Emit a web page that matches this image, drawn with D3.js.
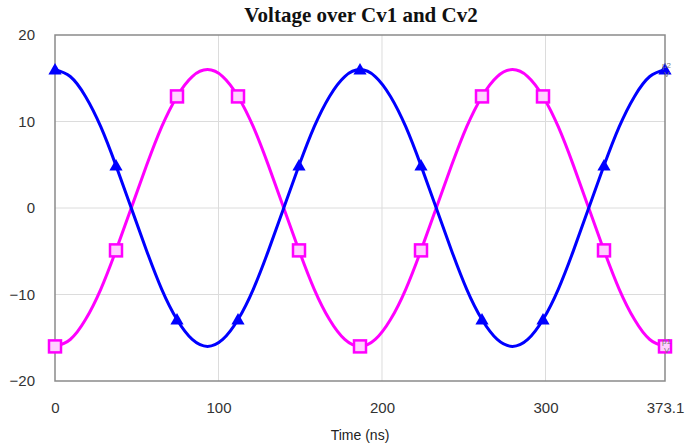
<!DOCTYPE html>
<html>
<head>
<meta charset="utf-8">
<script src="https://cdn.jsdelivr.net/npm/d3@7"></script>
<style>
body { margin: 0; background: #fff; }
</style>
</head>
<body>
<div id="viz"></div>
<script>
const W = 688, H = 446;
const m = {l: 55, r: 23, t: 35, b: 65}; // plot box
const sans = '"Liberation Sans", Arial, sans-serif';

// samples every ~9.33 ns
const time = [0, 9.33, 18.66, 27.98, 37.31, 46.64, 55.97, 65.29, 74.62, 83.95,
              93.28, 102.60, 111.93, 121.26, 130.59, 139.91, 149.24, 158.57, 167.90, 177.22,
              186.55, 195.88, 205.21, 214.53, 223.86, 233.19, 242.52, 251.84, 261.17, 270.50,
              279.83, 289.15, 298.48, 307.81, 317.14, 326.46, 335.79, 345.12, 354.45, 363.77, 373.1];
const cv1 = [16, 15.2, 12.9, 9.4, 4.9, 0, -4.9, -9.4, -12.9, -15.2,
             -16, -15.2, -12.9, -9.4, -4.9, 0, 4.9, 9.4, 12.9, 15.2,
             16, 15.2, 12.9, 9.4, 4.9, 0, -4.9, -9.4, -12.9, -15.2,
             -16, -15.2, -12.9, -9.4, -4.9, 0, 4.9, 9.4, 12.9, 15.2, 16];
const cv2 = [-16, -15.2, -12.9, -9.4, -4.9, 0, 4.9, 9.4, 12.9, 15.2,
             16, 15.2, 12.9, 9.4, 4.9, 0, -4.9, -9.4, -12.9, -15.2,
             -16, -15.2, -12.9, -9.4, -4.9, 0, 4.9, 9.4, 12.9, 15.2,
             16, 15.2, 12.9, 9.4, 4.9, 0, -4.9, -9.4, -12.9, -15.2, -16];
const xTicks = [0, 100, 200, 300, 373.1];
const yTicks = [-20, -10, 0, 10, 20];

const svg = d3.select('#viz').append('svg')
    .attr('width', W).attr('height', H);

const x = d3.scaleLinear().domain([0, 373.1]).range([m.l, W - m.r]);
const y = d3.scaleLinear().domain([-20, 20]).range([H - m.b, m.t]);

// grid
svg.append('g').selectAll('line.gx')
    .data(xTicks.slice(1, -1)).enter().append('line')
    .attr('x1', d => x(d)).attr('x2', d => x(d))
    .attr('y1', y(20)).attr('y2', y(-20))
    .attr('stroke', '#dcdcdc').attr('stroke-width', 1);
svg.append('g').selectAll('line.gy')
    .data(yTicks.slice(1, -1)).enter().append('line')
    .attr('y1', d => y(d)).attr('y2', d => y(d))
    .attr('x1', x(0)).attr('x2', x(373.1))
    .attr('stroke', '#dcdcdc').attr('stroke-width', 1);

// frame
svg.append('rect')
    .attr('x', x(0)).attr('y', y(20))
    .attr('width', x(373.1) - x(0)).attr('height', y(-20) - y(20))
    .attr('fill', 'none').attr('stroke', '#8a8a8a').attr('stroke-width', 1.5);

// axes
const xAxis = svg.append('g')
    .attr('transform', `translate(0,${y(-20)})`)
    .call(d3.axisBottom(x).tickValues(xTicks).tickSize(0).tickPadding(21)
        .tickFormat(d => d === 373.1 ? '373.1' : d3.format('d')(d)));
const yAxis = svg.append('g')
    .attr('transform', `translate(${x(0)},0)`)
    .call(d3.axisLeft(y).tickValues(yTicks).tickSize(0).tickPadding(20));
[xAxis, yAxis].forEach(a => {
    a.select('.domain').remove();
    a.selectAll('text').attr('fill', '#333')
        .style('font-size', '15px').style('font-family', sans);
});

svg.append('text')
    .attr('x', 360).attr('y', 440)
    .attr('text-anchor', 'middle').attr('fill', '#222')
    .style('font-size', '14px').style('font-family', sans)
    .text('Time (ns)');

svg.append('text')
    .attr('x', 361).attr('y', 22)
    .attr('text-anchor', 'middle').attr('fill', '#111')
    .style('font-family', '"Liberation Serif", "Times New Roman", serif')
    .style('font-weight', 'bold').style('font-size', '21px')
    .text('Voltage over Cv1 and Cv2');

const line = d3.line().curve(d3.curveNatural);

function series(vals, color) {
    svg.append('path')
        .attr('d', line(time.map((t, i) => [x(t), y(vals[i])])))
        .attr('fill', 'none').attr('stroke', color).attr('stroke-width', 3);
}
series(cv2, '#ff00ff');
series(cv1, '#0000ff');

// markers on every 4th sample
const marks = d3.range(0, time.length, 4);

svg.append('g').selectAll('rect')
    .data(marks).enter().append('rect')
    .attr('x', i => x(time[i]) - 6).attr('y', i => y(cv2[i]) - 6)
    .attr('width', 12).attr('height', 12)
    .attr('fill', '#ffd0ff').attr('stroke', '#ff00ff').attr('stroke-width', 2.5);

svg.append('g').selectAll('path.tri')
    .data(marks).enter().append('path')
    .attr('class', 'tri')
    .attr('d', d3.symbol().type(d3.symbolTriangle).size(75))
    .attr('transform', i => `translate(${x(time[i])},${y(cv1[i]) + 1})`)
    .attr('fill', '#0000ff');

// end labels
const lbl = [["p2", cv1[cv1.length - 1]], ["p1", cv2[cv2.length - 1]]];
lbl.forEach(([p, v]) => {
    svg.append('text').attr('x', x(373.1) - 3).attr('y', y(v) - 2)
        .attr('fill', '#777').style('font-size', '8px').style('font-family', sans).text(p);
    svg.append('text').attr('x', x(373.1) - 1).attr('y', y(v) + 7)
        .attr('fill', '#777').style('font-size', '8px').style('font-family', sans).text('V');
});
</script>
</body>
</html>
